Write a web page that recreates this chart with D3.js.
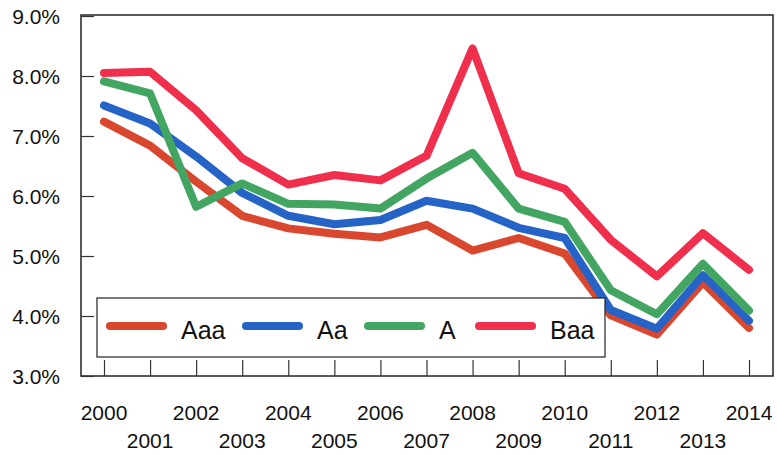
<!DOCTYPE html>
<html>
<head>
<meta charset="utf-8">
<script src="https://cdn.jsdelivr.net/npm/d3@7"></script>
<style>
  body { margin: 0; background: #fff; }
  text { font-family: "Liberation Sans", Arial, sans-serif; fill: #111; }
</style>
</head>
<body>
<svg id="chart" width="777" height="455"></svg>
<script>
// data
const years = [2000, 2001, 2002, 2003, 2004, 2005, 2006, 2007, 2008, 2009, 2010, 2011, 2012, 2013, 2014];
const aaa = [7.24, 6.84, 6.24, 5.67, 5.46, 5.37, 5.31, 5.52, 5.09, 5.30, 5.04, 4.01, 3.69, 4.56, 3.80];
const aa  = [7.51, 7.21, 6.66, 6.05, 5.67, 5.53, 5.60, 5.92, 5.79, 5.47, 5.30, 4.10, 3.79, 4.68, 3.92];
const a   = [7.91, 7.71, 5.82, 6.21, 5.87, 5.86, 5.79, 6.29, 6.72, 5.79, 5.57, 4.43, 4.03, 4.87, 4.09];
const baa = [8.05, 8.07, 7.43, 6.63, 6.19, 6.35, 6.26, 6.67, 8.46, 6.38, 6.12, 5.27, 4.66, 5.38, 4.77];
const seriesNames = ["Aaa", "Aa", "A", "Baa"];
const seriesColors = ["#d9472f", "#2563c6", "#42a561", "#ef2f4b"];
const yTicks = [3, 4, 5, 6, 7, 8, 9];

const series = [aaa, aa, a, baa].map((vals, i) => ({
  name: seriesNames[i],
  color: seriesColors[i],
  values: vals.map((v, j) => ({ year: years[j], value: v }))
}));

const svg = d3.select("#chart");

const frame = { left: 81, right: 773, top: 15, bottom: 376 };

const x = d3.scaleLinear()
  .domain([2000, 2014])
  .range([104, 749]);

const y = d3.scaleLinear()
  .domain([3, 9])
  .range([376, 16]);

// plot frame
svg.append("rect")
  .attr("x", frame.left)
  .attr("y", frame.top)
  .attr("width", frame.right - frame.left)
  .attr("height", frame.bottom - frame.top)
  .attr("fill", "none")
  .attr("stroke", "#222")
  .attr("stroke-width", 1.5);

// y axis: ticks pointing into the plot
const yAxis = svg.append("g")
  .attr("transform", "translate(" + frame.left + ",0)")
  .call(d3.axisRight(y).tickValues(yTicks).tickSize(13).tickFormat(""));
yAxis.select(".domain").remove();
yAxis.selectAll("line").attr("stroke", "#333").attr("stroke-width", 1.2);

svg.append("g")
  .selectAll("text")
  .data(yTicks)
  .enter()
  .append("text")
  .attr("x", 60)
  .attr("y", d => y(d))
  .attr("dy", "0.36em")
  .attr("text-anchor", "end")
  .style("font-size", "21px")
  .text(d => d3.format(".1f")(d) + "%");

// x axis: ticks pointing up into the plot
const xAxis = svg.append("g")
  .attr("transform", "translate(0," + frame.bottom + ")")
  .call(d3.axisTop(x).tickValues(years).tickSize(16).tickFormat(""));
xAxis.select(".domain").remove();
xAxis.selectAll("line").attr("stroke", "#333").attr("stroke-width", 1.2);

svg.append("g")
  .selectAll("text")
  .data(years)
  .enter()
  .append("text")
  .attr("x", d => x(d))
  .attr("y", (d, i) => i % 2 === 0 ? 420 : 448)
  .attr("text-anchor", "middle")
  .style("font-size", "21px")
  .text(d => d);

// lines
const line = d3.line()
  .x(d => x(d.year))
  .y(d => y(d.value));

svg.append("g")
  .selectAll("path")
  .data(series)
  .enter()
  .append("path")
  .attr("d", d => line(d.values))
  .attr("fill", "none")
  .attr("stroke", d => d.color)
  .attr("stroke-width", 8)
  .attr("stroke-linejoin", "round")
  .attr("stroke-linecap", "round");

// legend
const legend = svg.append("g");
legend.append("rect")
  .attr("x", 97)
  .attr("y", 298)
  .attr("width", 508)
  .attr("height", 59)
  .attr("fill", "#fff")
  .attr("stroke", "#222")
  .attr("stroke-width", 1.2);

const legendX = [107, 243, 365, 476];
const items = legend.selectAll("g.item")
  .data(series)
  .enter()
  .append("g")
  .attr("class", "item")
  .attr("transform", (d, i) => "translate(" + legendX[i] + ",326)");

items.append("line")
  .attr("x1", 3)
  .attr("x2", 56)
  .attr("stroke", d => d.color)
  .attr("stroke-width", 8)
  .attr("stroke-linecap", "round");

items.append("text")
  .attr("x", 74)
  .attr("y", 13)
  .style("font-size", "25px")
  .text(d => d.name);
</script>
</body>
</html>
